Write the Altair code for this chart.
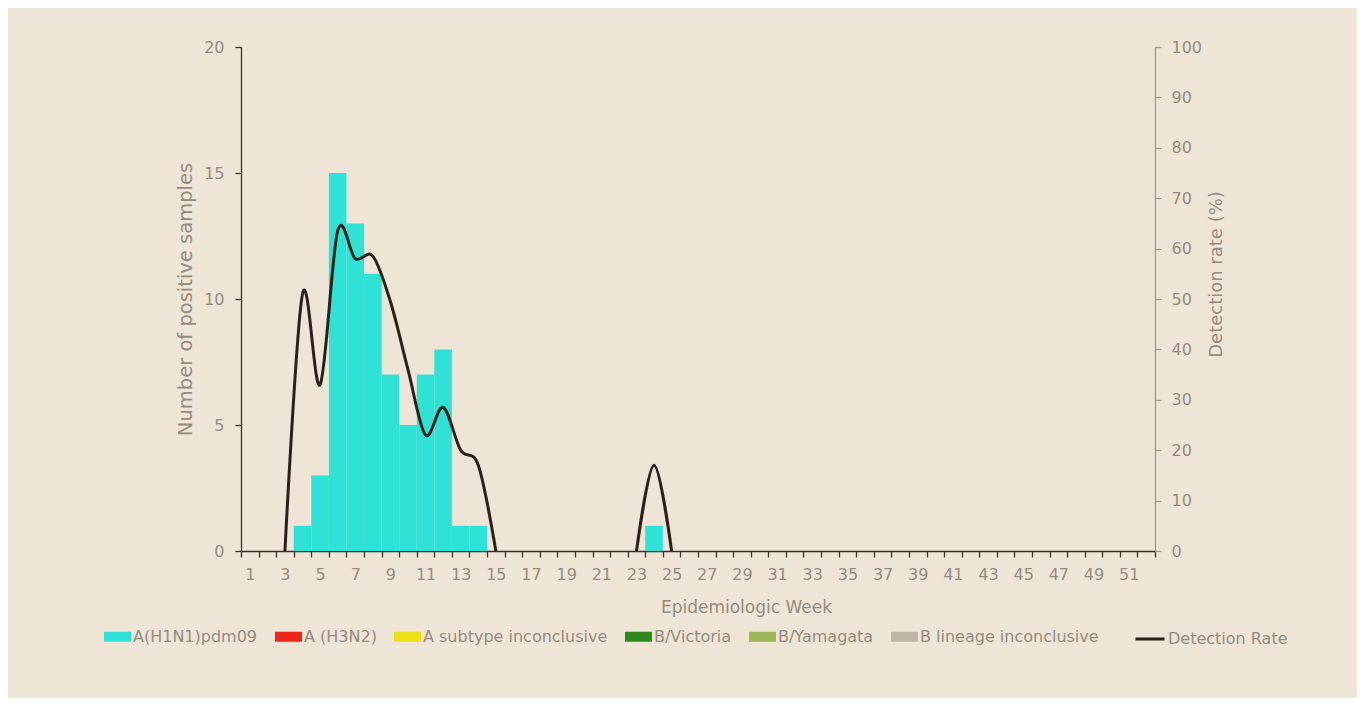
import altair as alt
import pandas as pd

# ---- data ----
weeks = list(range(1, 53))
subtypes = ["A(H1N1)pdm09", "A (H3N2)", "A subtype inconclusive",
            "B/Victoria", "B/Yamagata", "B lineage inconclusive"]
subtype_colors = ["#2ee3d6", "#ee2418", "#ede014", "#2e8a1a", "#9fb55a", "#bdb5a6"]

h1n1 = [0, 0, 0, 1, 3, 15, 13, 11, 7, 5, 7, 8, 1, 1, 0, 0, 0, 0, 0, 0,
        0, 0, 0, 1, 0, 0, 0, 0, 0, 0, 0, 0, 0, 0, 0, 0, 0, 0, 0, 0,
        0, 0, 0, 0, 0, 0, 0, 0, 0, 0, 0, 0]
h3n2 = [0] * 52
a_inconclusive = [0] * 52
b_victoria = [0] * 52
b_yamagata = [0] * 52
b_inconclusive = [0] * 52

rate = [None, None, 0, 51, 33, 63.5, 58, 58.5, 49.5, 36, 23, 28.5, 20, 17, 0,
        None, None, None, None, None, None, None, 0, 17, 0] + [None] * 27

# ---- tables ----
series = [h1n1, h3n2, a_inconclusive, b_victoria, b_yamagata, b_inconclusive]
rows = []
for name, vals in zip(subtypes, series):
    for w, v in zip(weeks, vals):
        rows.append({"week": w, "subtype": name, "count": v,
                     "order": subtypes.index(name)})
bar_df = pd.DataFrame(rows)

line_rows = []
seg = 0
prev_valid = False
for w, r in zip(weeks, rate):
    if r is None:
        prev_valid = False
        continue
    if not prev_valid:
        seg += 1
    prev_valid = True
    line_rows.append({"week": w, "rate": r, "seg": seg, "series": "Detection Rate"})
line_df = pd.DataFrame(line_rows)

FONT = "DejaVu Sans"
GREY = "#958c80"
DARK = "#3b3028"

x_enc = alt.X(
    "week:O",
    scale=alt.Scale(domain=weeks, paddingInner=0, paddingOuter=0),
    axis=alt.Axis(
        title="Epidemiologic Week",
        titleFontSize=17,
        titleX=505,
        titleAlign="center",
        labelAngle=0,
        labelExpr="datum.value % 2 == 1 ? datum.label : ''",
        tickBand="extent",
        tickSize=6,
        tickColor=DARK,
        domainColor=DARK,
        labelPadding=9,
        titlePadding=17,
    ),
)

bars = alt.Chart(bar_df).mark_bar(strokeWidth=0, opacity=1).encode(
    x=x_enc,
    y=alt.Y(
        "count:Q",
        stack="zero",
        scale=alt.Scale(domain=[0, 20], nice=False),
        axis=alt.Axis(
            title="Number of positive samples",
            titleFontSize=19.5,
            values=[0, 5, 10, 15, 20],
            tickSize=6,
            tickColor=DARK,
            domainColor=DARK,
            labelPadding=11,
            titlePadding=8,
            grid=False,
        ),
    ),
    fill=alt.Fill(
        "subtype:N",
        scale=alt.Scale(domain=subtypes, range=subtype_colors),
        legend=alt.Legend(
            title=None,
            orient="none",
            direction="horizontal",
            columns=6,
            legendX=-137,
            legendY=576,
            symbolType="M-1,-0.37L1,-0.37L1,0.37L-1,0.37Z",
            symbolSize=729,
            symbolStrokeWidth=0,
            symbolOpacity=1,
            labelOffset=2,
            labelLimit=0,
            columnPadding=17,
        ),
    ),
    order=alt.Order("order:Q"),
)

line = alt.Chart(line_df).mark_line(interpolate="cardinal", strokeWidth=3).encode(
    x=alt.X("week:O"),
    y=alt.Y(
        "rate:Q",
        scale=alt.Scale(domain=[0, 100], nice=False),
        axis=alt.Axis(
            title="Detection rate (%)",
            orient="right",
            values=list(range(0, 101, 10)),
            tickSize=6,
            tickColor="#a39a8e",
            domainColor="#a39a8e",
            labelPadding=10,
            titlePadding=24,
            titleAngle=270,
            titleY=227,
            grid=False,
        ),
    ),
    stroke=alt.Stroke(
        "series:N",
        scale=alt.Scale(domain=["Detection Rate"], range=["#2b2118"]),
        legend=alt.Legend(
            title=None,
            orient="none",
            direction="horizontal",
            legendX=893,
            legendY=576,
            symbolType="stroke",
            symbolSize=841,
            symbolStrokeWidth=3,
            labelOffset=2,
            labelLimit=0,
        ),
    ),
    detail="seg:N",
)

chart = (
    alt.layer(bars, line)
    .resolve_scale(y="independent")
    .properties(
        width=914,
        height=504,
        autosize=alt.AutoSizeParams(type="none"),
        padding={"left": 233, "top": 39, "right": 202, "bottom": 147},
        background="#eee5d7",
    )
    .configure_view(stroke=None)
    .configure_axis(
        labelFont=FONT,
        labelFontSize=16,
        labelColor=GREY,
        titleFont=FONT,
        titleFontSize=18,
        titleFontWeight="normal",
        titleColor=GREY,
        domainWidth=1.3,
        tickWidth=1.3,
    )
    .configure_legend(
        labelFont=FONT,
        labelFontSize=16,
        labelColor=GREY,
        padding=0,
    )
)

chart.save("out.html", embed_options={"renderer": "svg", "actions": False})
